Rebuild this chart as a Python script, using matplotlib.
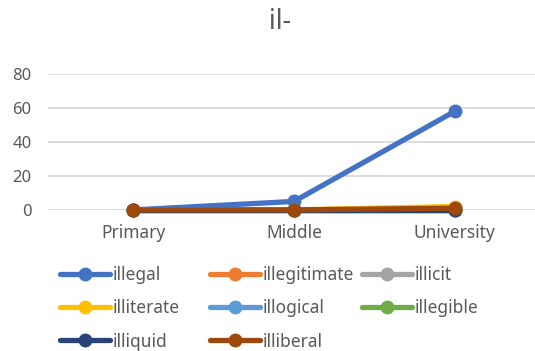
import numpy as np
import matplotlib.pyplot as plt

plt.rcParams['font.family'] = ['Noto Sans', 'DejaVu Sans']

# data
levels = ['Primary', 'Middle', 'University']
words = ['illegal', 'illegitimate', 'illicit', 'illiterate',
         'illogical', 'illegible', 'illiquid', 'illiberal']
illegal = [0, 5, 58]
illegitimate = [0, 0, 1]
illicit = [0, 0, 0]
illiterate = [0, 0, 2]
illogical = [0, 0, 0]
illegible = [0, 0, 0]
illiquid = [0, 0, 0]
illiberal = [0, 0, 1]
yticks = [0, 20, 40, 60, 80]

series = [illegal, illegitimate, illicit, illiterate,
          illogical, illegible, illiquid, illiberal]
colors = ['#4472C4', '#ED7D31', '#A5A5A5', '#FFC000',
          '#5B9BD5', '#70AD47', '#264478', '#9E480E']
grey = '#595959'

fig = plt.figure(figsize=(5.35, 3.51), dpi=100)
ax = fig.add_axes([0.09, 0.402, 0.91, 0.387])

x = np.arange(len(levels)) + 0.5
handles = []
for vals, name, col in zip(series, words, colors):
    h, = ax.plot(x, vals, color=col, lw=3.8, marker='o', ms=9,
                 solid_capstyle='round', label=name, clip_on=False)
    handles.append(h)

ax.set_xlim(-0.03, 3)
ax.set_ylim(0, 80)
ax.set_yticks(yticks)
ax.set_xticks(x)
ax.set_xticklabels(levels)
ax.grid(axis='y', color='#D9D9D9', lw=1.3)
ax.set_axisbelow(True)
for s in ax.spines.values():
    s.set_visible(False)
ax.tick_params(length=0, labelsize=12.5, labelcolor=grey, pad=10)
ax.tick_params(axis='y', labelsize=12, pad=12)

fig.text(280 / 535, 1 - 22 / 351, 'il-', ha='center', va='center',
         fontsize=19, color=grey)

# legend laid out row by row like the original, one legend per column
col_x = [60, 210, 362]
for c in range(3):
    hs = handles[c::3]
    fig.legend(handles=hs, labels=[h.get_label() for h in hs],
               loc='upper left', bbox_to_anchor=(col_x[c] / 535, 1 - 266 / 351),
               frameon=False, fontsize=12.5, labelcolor=grey,
               handlelength=2.9, handletextpad=0.15, labelspacing=0.88,
               borderpad=0, borderaxespad=0)

fig.savefig('out.png', dpi=100)
